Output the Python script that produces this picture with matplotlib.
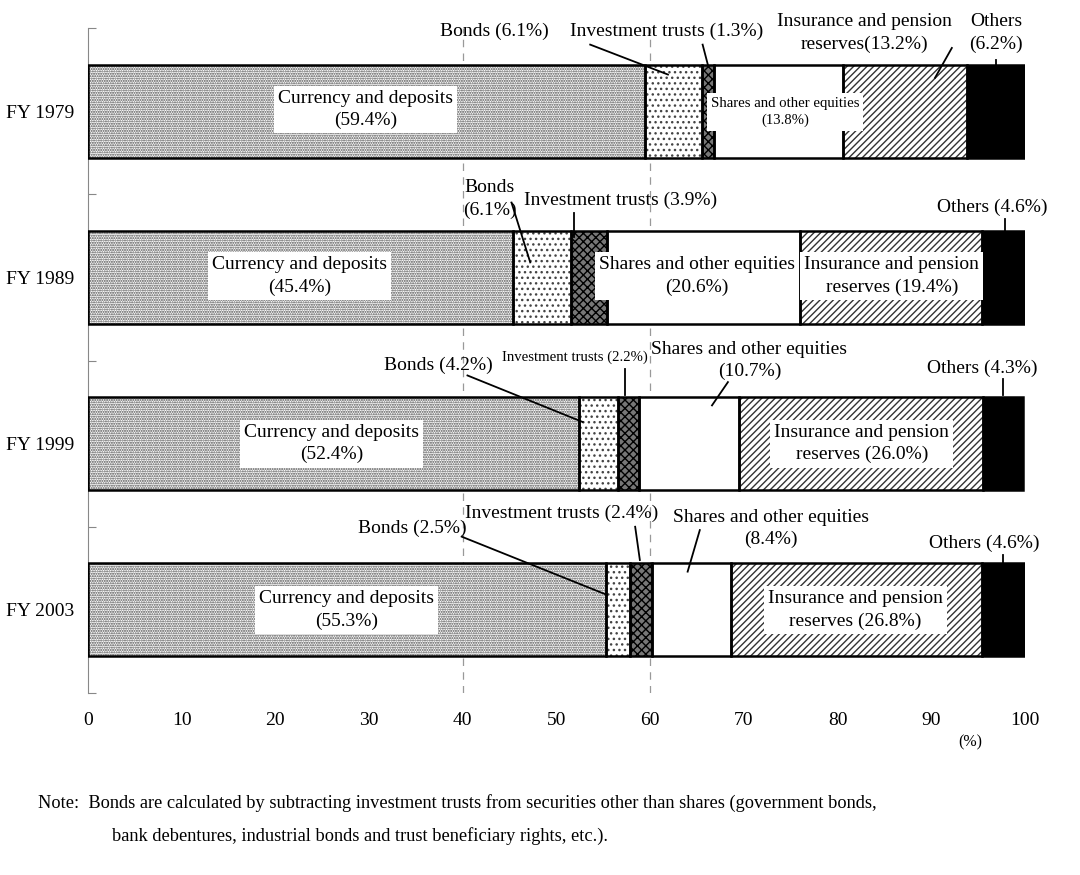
import matplotlib.pyplot as plt
import numpy as np

plt.rcParams['font.family'] = ['Liberation Serif', 'DejaVu Serif']
plt.rcParams['hatch.linewidth'] = 1.0

years = ['FY 1979', 'FY 1989', 'FY 1999', 'FY 2003']
categories = ['Currency and deposits', 'Bonds', 'Investment trusts',
              'Shares and other equities', 'Insurance and pension reserves', 'Others']
currency = [59.4, 45.4, 52.4, 55.3]
bonds = [6.1, 6.1, 4.2, 2.5]
trusts = [1.3, 3.9, 2.2, 2.4]
shares = [13.8, 20.6, 10.7, 8.4]
insurance = [13.2, 19.4, 26.0, 26.8]
others = [6.2, 4.6, 4.3, 4.6]
series = [currency, bonds, trusts, shares, insurance, others]

# fill, hatch, hatch colour
styles = [('white', '.......', '#4a4a4a'),
          ('white', '...', '#444444'),
          ('#777777', 'xxxx', 'black'),
          ('white', '', 'black'),
          ('white', '/////', '#333333'),
          ('black', '', 'black')]

fig = plt.figure(figsize=(10.8, 8.75), dpi=100)
ax = fig.add_axes([0.0815, 0.208, 0.8675, 0.76])

ypos = np.arange(len(years)) + 0.5
h = 0.56
left = np.zeros(len(years))
for vals, (fc, hatch, hc) in zip(series, styles):
    vals = np.array(vals)
    ax.barh(ypos, vals, left=left, height=h, color=fc, hatch=hatch,
            edgecolor=hc, linewidth=0, zorder=2)
    ax.barh(ypos, vals, left=left, height=h, fill=False,
            edgecolor='black', linewidth=1.8, zorder=3)
    left += vals

for x in (40, 60):
    ax.axvline(x, color='#999999', linestyle=(0, (6, 5)), linewidth=0.9, zorder=1)

box = dict(facecolor='white', edgecolor='none', pad=3)
fs = 14
sm = 10.6

def lab(x, y, s, size=fs, bbox=None):
    ax.text(x, y, s, ha='center', va='center', fontsize=size, bbox=bbox,
            linespacing=1.4, zorder=5)

def line(x0, y0, x1, y1):
    ax.plot([x0, x1], [y0, y1], color='black', linewidth=1.3, zorder=6)

# FY 1979
lab(29.6, 0.49, 'Currency and deposits\n(59.4%)', bbox=box)
lab(43.4, 0.02, 'Bonds (6.1%)')
line(53.6, 0.10, 61.9, 0.28)
lab(61.8, 0.02, 'Investment trusts (1.3%)')
line(65.6, 0.10, 66.2, 0.23)
lab(74.4, 0.505, 'Shares and other equities\n(13.8%)', size=sm, bbox=box)
lab(82.9, 0.03, 'Insurance and pension\nreserves(13.2%)')
line(92.2, 0.12, 90.4, 0.30)
lab(96.9, 0.03, 'Others\n(6.2%)')
line(96.9, 0.19, 96.9, 0.25)

# FY 1989
lab(22.6, 1.49, 'Currency and deposits\n(45.4%)', bbox=box)
lab(42.9, 1.03, 'Bonds\n(6.1%)')
line(45.2, 1.05, 47.2, 1.41)
lab(56.8, 1.035, 'Investment trusts (3.9%)')
line(51.9, 1.11, 51.9, 1.26)
lab(65.0, 1.49, 'Shares and other equities\n(20.6%)', bbox=box)
lab(85.8, 1.49, 'Insurance and pension\nreserves (19.4%)', bbox=box)
lab(96.5, 1.08, 'Others (4.6%)')
line(97.9, 1.15, 97.9, 1.23)

# FY 1999
lab(26.0, 2.50, 'Currency and deposits\n(52.4%)', bbox=box)
lab(37.4, 2.03, 'Bonds (4.2%)')
line(40.5, 2.09, 52.8, 2.37)
lab(52.0, 1.98, 'Investment trusts (2.2%)', size=sm)
line(57.3, 2.05, 57.3, 2.21)
lab(70.6, 2.00, 'Shares and other equities\n(10.7%)')
line(68.3, 2.13, 66.6, 2.27)
lab(82.6, 2.50, 'Insurance and pension\nreserves (26.0%)', bbox=box)
lab(95.4, 2.05, 'Others (4.3%)')
line(97.7, 2.11, 97.7, 2.21)

# FY 2003
lab(27.6, 3.50, 'Currency and deposits\n(55.3%)', bbox=box)
lab(34.6, 3.01, 'Bonds (2.5%)')
line(39.9, 3.06, 55.4, 3.41)
lab(50.6, 2.92, 'Investment trusts (2.4%)')
line(58.4, 3.00, 58.9, 3.20)
lab(72.9, 3.01, 'Shares and other equities\n(8.4%)')
line(65.3, 3.02, 64.0, 3.27)
lab(81.9, 3.50, 'Insurance and pension\nreserves (26.8%)', bbox=box)
lab(95.7, 3.10, 'Others (4.6%)')
line(97.7, 3.17, 97.7, 3.23)

ax.set_xlim(0, 100)
ax.set_ylim(4, 0)
ax.set_xticks(range(0, 101, 10))
ax.tick_params(axis='x', length=0, pad=14, labelsize=fs)
ax.set_yticks(ypos)
ax.set_yticklabels(years)
ax.tick_params(axis='y', which='major', length=0, pad=10, labelsize=fs)
ax.set_yticks(np.arange(0, 5), minor=True)
ax.tick_params(axis='y', which='minor', direction='in', length=6, width=0.8, color='#888888')
for s in ('top', 'right', 'bottom'):
    ax.spines[s].set_visible(False)
ax.spines['left'].set_color('#888888')
ax.spines['left'].set_linewidth(0.8)

fig.text(0.898, 0.151, '(%)', fontsize=11.5, ha='center', va='center')
fig.text(0.035, 0.082, 'Note:  Bonds are calculated by subtracting investment trusts from securities other than shares (government bonds,',
         fontsize=13.2, va='center')
fig.text(0.104, 0.045, 'bank debentures, industrial bonds and trust beneficiary rights, etc.).',
         fontsize=13.2, va='center')

plt.savefig('out.png', dpi=100)
